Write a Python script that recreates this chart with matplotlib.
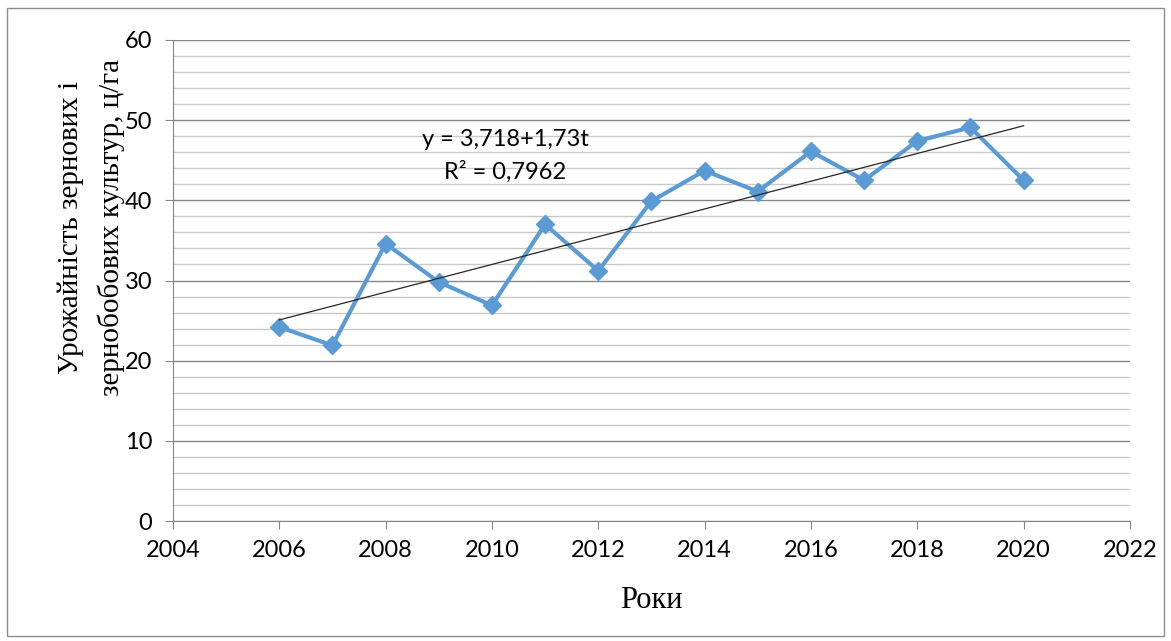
import numpy as np
import matplotlib.pyplot as plt
from matplotlib.patches import Rectangle
from matplotlib.ticker import MultipleLocator

# урожайність зернових і зернобобових, ц/га
years = [2006, 2007, 2008, 2009, 2010, 2011, 2012, 2013, 2014, 2015,
         2016, 2017, 2018, 2019, 2020]
yields = [24.2, 21.9, 34.6, 29.8, 26.9, 37.0, 31.2, 39.9, 43.7, 41.1,
          46.1, 42.5, 47.4, 49.1, 42.5]

sans = ['Lato', 'DejaVu Sans']
serif = ['Liberation Serif', 'DejaVu Serif']

fig = plt.figure(figsize=(11.71, 6.41), dpi=100)
ax = fig.add_axes([0.1477, 0.1872, 0.8172, 0.7504])

fig.patches.append(Rectangle((0.006, 0.008), 0.988, 0.98, transform=fig.transFigure,
                             fill=False, edgecolor='#8c8c8c', linewidth=1.0))

ax.plot(years, yields, color='#5b9bd5', lw=3, marker='D', ms=9,
        markeredgecolor='#5b9bd5', zorder=3)

# linear trend
k, b = np.polyfit(years, yields, 1)
xt = np.array([years[0], years[-1]])
ax.plot(xt, k * xt + b, color='#262626', lw=0.9, zorder=4)

fig.text(505 / 1171, 1 - 140 / 641, 'y = 3,718+1,73t', ha='center', va='center',
         fontsize=17, family=sans)
fig.text(505 / 1171, 1 - 172 / 641, 'R² = 0,7962', ha='center', va='center',
         fontsize=17, family=sans)

ax.set_xlim(2004, 2022)
ax.set_ylim(0, 60)
ax.xaxis.set_major_locator(MultipleLocator(2))
ax.yaxis.set_major_locator(MultipleLocator(10))
ax.yaxis.set_minor_locator(MultipleLocator(2))
ax.grid(axis='y', which='major', color='#868686', lw=1.0)
ax.grid(axis='y', which='minor', color='#c8c8c8', lw=1.0)
ax.set_axisbelow(True)

for s in ['top', 'right']:
    ax.spines[s].set_visible(False)
for s in ['left', 'bottom']:
    ax.spines[s].set_color('#868686')
ax.tick_params(which='major', direction='out', length=6, color='#868686',
               labelsize=17)
ax.tick_params(axis='x', pad=8)
ax.tick_params(axis='y', pad=9)
ax.tick_params(which='minor', length=0)
for lab in ax.get_xticklabels() + ax.get_yticklabels():
    lab.set_family(sans)

ax.set_xlabel('Роки', family=serif, fontsize=22, labelpad=18)
ax.set_ylabel('Урожайність зернових і\nзернобобових культур, ц/га', family=serif,
              fontsize=21, linespacing=1.65)
ax.yaxis.set_label_coords(-0.05, 0.61)

fig.savefig('out.png', dpi=100)
